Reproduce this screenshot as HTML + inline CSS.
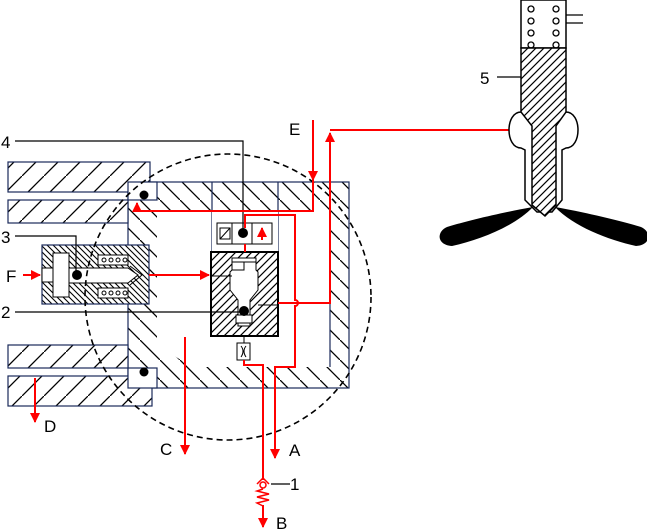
<!DOCTYPE html>
<html><head><meta charset="utf-8"><style>
html,body{margin:0;padding:0;background:#fff;width:647px;height:532px;overflow:hidden}
svg{display:block}
text{font-family:"Liberation Sans",Arial,sans-serif;font-size:17px;fill:#000}
</style></head><body>
<svg width="647" height="532" viewBox="0 0 647 532" xmlns="http://www.w3.org/2000/svg">
<defs>
<pattern id="fs" patternUnits="userSpaceOnUse" width="9" height="9">
<rect width="9" height="9" fill="#fff"/><path d="M-1,10 L10,-1 M-1,1 L1,-1 M8,10 L10,8" stroke="#000" stroke-width="1.2"/></pattern>
<pattern id="fsb" patternUnits="userSpaceOnUse" width="22" height="22">
<rect width="22" height="22" fill="#fff"/><path d="M0,22 L22,0" stroke="#000" stroke-width="1.3"/></pattern>
<pattern id="bsb" patternUnits="userSpaceOnUse" width="20" height="20">
<rect width="20" height="20" fill="#fff"/><path d="M0,0 L20,20" stroke="#000" stroke-width="1.3"/></pattern>
<pattern id="bss" patternUnits="userSpaceOnUse" width="6" height="6">
<rect width="6" height="6" fill="#fff"/><path d="M0,0 L6,6 M-1,5 L1,7 M5,-1 L7,1" stroke="#000" stroke-width="1.1"/></pattern>
<pattern id="fsm" patternUnits="userSpaceOnUse" width="8" height="8">
<rect width="8" height="8" fill="#fff"/><path d="M0,8 L8,0 M-1,1 L1,-1 M7,9 L9,7" stroke="#000" stroke-width="1.2"/></pattern>
<marker id="ar" markerWidth="10" markerHeight="10" refX="9" refY="5" orient="auto" markerUnits="userSpaceOnUse"><path d="M0,0 L10,5 L0,10 Z" fill="#f00"/></marker>
</defs>

<!-- main body -->
<rect x="128" y="182" width="221" height="206" fill="url(#bsb)" stroke="#1a2a5a" stroke-width="1.2"/>
<path d="M157,212 H330 V367 H192 L157,345 Z" fill="#fff"/>
<line x1="212" y1="182" x2="212" y2="252" stroke="#1a2a5a" stroke-width="1.2"/>
<line x1="278" y1="182" x2="278" y2="252" stroke="#1a2a5a" stroke-width="1.2"/>
<line x1="330" y1="200" x2="330" y2="367" stroke="#1a2a5a" stroke-width="1.2"/>
<rect x="212" y="212" width="66" height="40" fill="#fff"/>

<!-- left bars -->
<rect x="8" y="162" width="142" height="30" fill="url(#fsb)" stroke="#1a2a5a" stroke-width="1.2"/>
<rect x="8" y="200" width="120" height="23" fill="url(#fsb)" stroke="#1a2a5a" stroke-width="1.2"/>
<rect x="128" y="182" width="29" height="18" fill="#fff" stroke="#1a2a5a" stroke-width="1.2"/>
<rect x="8" y="345" width="120" height="23" fill="url(#fsb)" stroke="#1a2a5a" stroke-width="1.2"/>
<rect x="8" y="376" width="144" height="30" fill="url(#fsb)" stroke="#1a2a5a" stroke-width="1.2"/>
<rect x="128" y="368" width="29" height="20" fill="#fff" stroke="#1a2a5a" stroke-width="1.2"/>
<circle cx="144" cy="195" r="4.5" fill="#000"/>
<circle cx="144" cy="372" r="4.5" fill="#000"/>

<!-- piston assembly 3 -->
<rect x="42" y="245" width="107" height="59" fill="url(#bss)" stroke="#1a2a5a" stroke-width="1.2"/>
<rect x="53" y="253" width="16" height="44" fill="#fff" stroke="#000"/>
<path d="M69,268 H128 L138,275 L128,283 H69 Z" fill="#fff" stroke="#000"/>
<path d="M130,266 L142,275 L130,285" fill="none" stroke="#000"/>
<rect x="42" y="268" width="11" height="14" fill="#fff" stroke="#000"/>
<rect x="98" y="255" width="30" height="10" fill="#fff" stroke="#000"/>
<rect x="98" y="288" width="30" height="10" fill="#fff" stroke="#000"/>
<g fill="none" stroke="#000" stroke-width="1"><circle cx="104" cy="260" r="2"/><circle cx="111" cy="260" r="2"/><circle cx="118" cy="260" r="2"/><circle cx="125" cy="260" r="2"/>
<circle cx="104" cy="293" r="2"/><circle cx="111" cy="293" r="2"/><circle cx="118" cy="293" r="2"/><circle cx="125" cy="293" r="2"/></g>

<!-- valve block -->
<rect x="211" y="252" width="67" height="84" fill="url(#fsm)" stroke="#000" stroke-width="2"/>
<path d="M232,258 H256 V270 L258,272 V290 L250,300 V326 H238 V300 L230,290 V272 L232,270 Z" fill="#fff" stroke="#000"/>
<path d="M232,262 H256 M244,262 V270 H232" fill="none" stroke="#000"/>
<path d="M211,276 H232 M258,305 H278" stroke="#000" fill="none"/>
<rect x="236" y="315" width="16" height="8" fill="#fff" stroke="#000"/>
<circle cx="244" cy="311" r="5" fill="#000"/>
<line x1="244" y1="336" x2="244" y2="343" stroke="#000"/>
<rect x="237" y="343" width="13" height="17" fill="#fff" stroke="#000"/>
<path d="M241,346 Q245,351 241,357 M246,346 Q242,351 246,357" fill="none" stroke="#000"/>

<!-- solenoid -->
<rect x="217" y="223" width="55" height="21" fill="#fff" stroke="#000"/>
<line x1="232" y1="223" x2="232" y2="244" stroke="#000"/>
<line x1="252" y1="223" x2="252" y2="244" stroke="#000"/>
<rect x="220" y="228" width="10" height="11" fill="#fff" stroke="#000"/>
<line x1="220" y1="239" x2="230" y2="228" stroke="#000"/>
<circle cx="243" cy="233" r="5" fill="#000"/>

<!-- dashed circle -->
<circle cx="228" cy="297" r="143" fill="none" stroke="#000" stroke-width="1.6" stroke-dasharray="6,4"/>

<!-- black leader lines -->
<g stroke="#000" stroke-width="1.2" fill="none">
<path d="M15,141 H243 V233"/>
<path d="M15,236 H76 V275"/>
<path d="M15,312 H244"/>
<path d="M497,77 H521"/>
<path d="M271,484 H290"/>
</g>
<circle cx="77" cy="275" r="5" fill="#000"/>

<!-- red flows -->
<g stroke="#f00" stroke-width="2" fill="none">
<path d="M313,120 V211 H137 V203" marker-end="url(#ar)"/>
<path d="M313,150 V180" marker-end="url(#ar)"/>
<path d="M23,275 H40" marker-end="url(#ar)"/>
<path d="M149,275 H209" marker-end="url(#ar)"/>
<path d="M245,228 V215 H295 V300 a3,3 0 0 1 0,6 V367 H275 V458" marker-end="url(#ar)"/>
<path d="M262,240 V228" marker-end="url(#ar)"/>
<path d="M245,244 V252"/>
<path d="M278,303 H330 V133" marker-end="url(#ar)"/>
<path d="M330,130 H510"/>
<path d="M244,360 V365 H263 V480"/>
<path d="M263,505 V527" marker-end="url(#ar)"/>
<path d="M185,337 V454" marker-end="url(#ar)"/>
<path d="M35,378 V422" marker-end="url(#ar)"/>
</g>
<circle cx="263" cy="485" r="3" fill="#fff" stroke="#f00" stroke-width="1.5"/>
<path d="M257,484 L263,478 L269,484" fill="none" stroke="#f00" stroke-width="1.5"/>
<path d="M263,489 L257,491 L269,494 L257,497 L269,500 L257,503 L263,506" fill="none" stroke="#f00" stroke-width="1.5"/>

<!-- nozzle 5 -->
<rect x="521" y="0" width="45" height="48" fill="#fff" stroke="#000" stroke-width="1.5"/>
<g fill="none" stroke="#000" stroke-width="1.3">
<circle cx="531" cy="9" r="3"/><circle cx="556" cy="9" r="3"/>
<circle cx="531" cy="21" r="3"/><circle cx="556" cy="21" r="3"/>
<circle cx="531" cy="33" r="3"/><circle cx="556" cy="33" r="3"/>
<circle cx="531" cy="45" r="3"/><circle cx="556" cy="45" r="3"/>
<path d="M566,15 H583 M566,23 H583"/>
</g>
<path d="M521,112 C505,112 505,148 521,148 L525,150 V200 L537,212 H552 L562,200 V150 L566,148 C582,148 582,112 566,112 Z" fill="#fff" stroke="#000" stroke-width="1.5"/>
<path d="M521,48 H566 V112 L556,126 V205 L545,216 L532,205 V126 L521,112 Z" fill="url(#fsm)" stroke="#000" stroke-width="1.5"/>
<path d="M533,207 C505,212 470,220 447,227 C436,232 437,245 452,246 C480,240 515,226 533,207 Z" fill="#000"/>
<path d="M555,207 C583,212 618,220 641,227 C652,232 651,245 636,246 C608,240 573,226 555,207 Z" fill="#000"/>

<!-- labels -->
<text x="1" y="148">4</text>
<text x="1" y="243">3</text>
<text x="1" y="318">2</text>
<text x="6" y="282">F</text>
<text x="44" y="432">D</text>
<text x="160" y="455">C</text>
<text x="289" y="456">A</text>
<text x="290" y="490">1</text>
<text x="276" y="529">B</text>
<text x="289" y="135">E</text>
<text x="480" y="84">5</text>
</svg>
</body></html>
